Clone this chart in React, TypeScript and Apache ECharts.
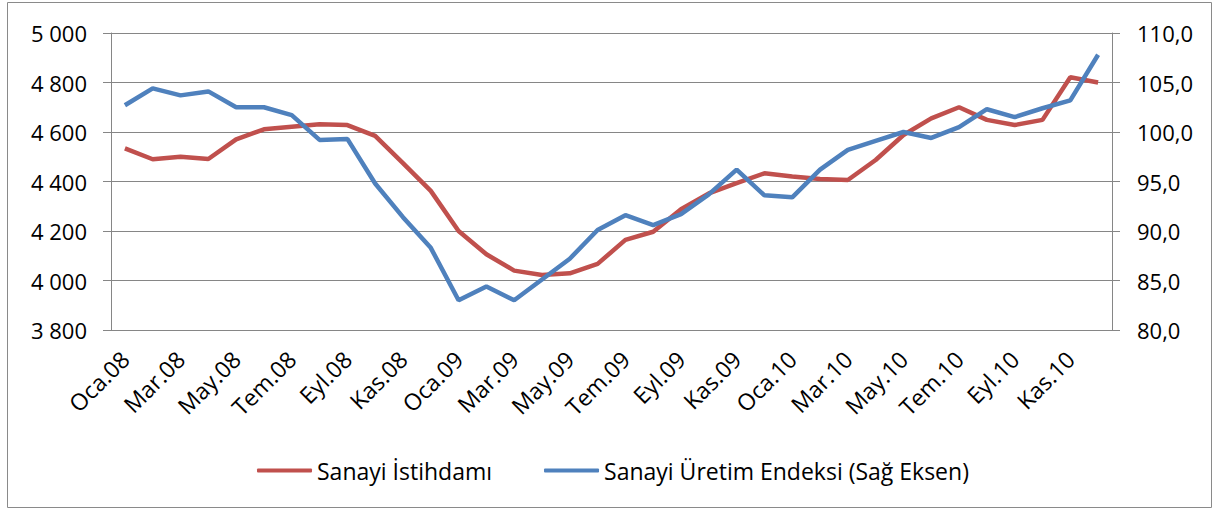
import React, { useEffect, useRef } from "react";
import * as echarts from "echarts";

const months = ["Oca", "Şub", "Mar", "Nis", "May", "Haz", "Tem", "Ağu", "Eyl", "Eki", "Kas", "Ara"];
const years = ["08", "09", "10"];
const categories: string[] = years.flatMap((y) => months.map((m) => `${m}.${y}`));

const istihdam = [
  4534, 4490, 4500, 4491, 4570, 4611, 4621, 4631, 4628, 4584, 4474, 4362,
  4200, 4106, 4040, 4022, 4029, 4067, 4164, 4197, 4288, 4352, 4393, 4433,
  4420, 4410, 4406, 4487, 4588, 4655, 4700, 4649, 4628, 4649, 4821, 4800,
];

const uretim = [
  102.7, 104.4, 103.7, 104.1, 102.5, 102.5, 101.7, 99.2, 99.3, 94.8, 91.4, 88.3,
  83.0, 84.4, 83.0, 85.1, 87.2, 90.1, 91.6, 90.6, 91.7, 93.7, 96.2, 93.6,
  93.4, 96.2, 98.2, 99.1, 100.0, 99.4, 100.5, 102.3, 101.5, 102.4, 103.2, 107.8,
];

const seriesNames = ["Sanayi İstihdamı", "Sanayi Üretim Endeksi (Sağ Eksen)"];

const FONT = "Open Sans";
const FS = 22;
const AXIS_GRAY = "#868686";

export default function App() {
  const ref = useRef<HTMLDivElement>(null);
  useEffect(() => {
    if (!ref.current) return;
    const chart = echarts.init(ref.current, undefined, { renderer: "svg" });
    chart.setOption({
      animation: false,
      backgroundColor: "#ffffff",
      textStyle: { fontFamily: FONT },
      graphic: [
        {
          type: "rect",
          shape: { x: 7.5, y: 2.5, width: 1204, height: 505 },
          style: { fill: "none", stroke: "#8a8a8a", lineWidth: 1 },
          silent: true,
        },
      ],
      grid: { left: 111, right: 103, top: 33, bottom: 179, containLabel: false },
      legend: {
        left: 252,
        top: 454,
        icon: "roundRect",
        itemWidth: 55,
        itemHeight: 4,
        itemGap: 52,
        textStyle: { fontFamily: FONT, fontSize: 23, color: "#000" },
        data: seriesNames,
      },
      xAxis: {
        type: "category",
        data: categories,
        boundaryGap: true,
        axisLine: { lineStyle: { color: AXIS_GRAY, width: 1 } },
        axisTick: { interval: 1, length: 7, lineStyle: { color: AXIS_GRAY } },
        axisLabel: {
          interval: 1,
          rotate: 45,
          margin: 25,
          fontFamily: FONT,
          fontSize: 23,
          color: "#000",
        },
        splitLine: { show: false },
      },
      yAxis: [
        {
          type: "value",
          min: 3800,
          max: 5000,
          interval: 200,
          axisLine: { show: true, lineStyle: { color: AXIS_GRAY } },
          axisTick: { show: true, length: 8, lineStyle: { color: AXIS_GRAY } },
          axisLabel: {
            margin: 24,
            fontFamily: FONT,
            fontSize: FS,
            color: "#000",
            formatter: (v: number) => String(v).replace(/\B(?=(\d{3})+(?!\d))/g, " "),
          },
          splitLine: { show: true, lineStyle: { color: AXIS_GRAY, width: 1 } },
        },
        {
          type: "value",
          min: 80,
          max: 110,
          interval: 5,
          position: "right",
          axisLine: { show: true, lineStyle: { color: AXIS_GRAY } },
          axisTick: { show: true, length: 8, lineStyle: { color: AXIS_GRAY } },
          axisLabel: {
            margin: 25,
            fontFamily: FONT,
            fontSize: FS,
            color: "#000",
            formatter: (v: number) => v.toFixed(1).replace(".", ","),
          },
          splitLine: { show: false },
        },
      ],
      series: [
        {
          name: seriesNames[0],
          type: "line",
          yAxisIndex: 0,
          data: istihdam,
          symbol: "none",
          lineStyle: { color: "#C0504D", width: 4.5 },
          itemStyle: { color: "#C0504D" },
          z: 2,
        },
        {
          name: seriesNames[1],
          type: "line",
          yAxisIndex: 1,
          data: uretim,
          symbol: "none",
          lineStyle: { color: "#4F81BD", width: 4.5 },
          itemStyle: { color: "#4F81BD" },
          z: 3,
        },
      ],
    });
    return () => chart.dispose();
  }, []);
  return (
    <div
      ref={ref}
      style={{ position: "fixed", left: 0, top: 0, width: 1215, height: 509 }}
    />
  );
}
